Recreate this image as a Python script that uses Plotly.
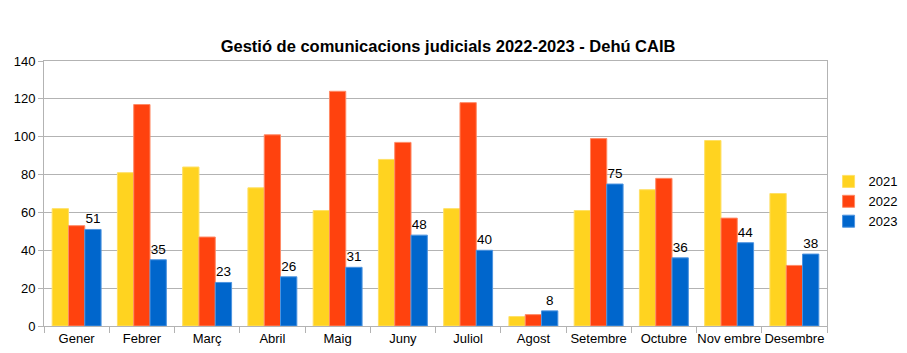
import plotly.graph_objects as go

months = ["Gener", "Febrer", "Març", "Abril", "Maig", "Juny", "Juliol",
          "Agost", "Setembre", "Octubre", "Nov embre", "Desembre"]
v2021 = [62, 81, 84, 73, 61, 88, 62, 5, 61, 72, 98, 70]
v2022 = [53, 117, 47, 101, 124, 97, 118, 6, 99, 78, 57, 32]
v2023 = [51, 35, 23, 26, 31, 48, 40, 8, 75, 36, 44, 38]
y_ticks = [0, 20, 40, 60, 80, 100, 120, 140]

FONT = "Liberation Sans, Arial, sans-serif"

fig = go.Figure()
fig.add_trace(go.Bar(name="2021", x=months, y=v2021,
                     marker=dict(color="#ffd320", line=dict(color="#ffe066", width=1))))
fig.add_trace(go.Bar(name="2022", x=months, y=v2022,
                     marker=dict(color="#ff420e", line=dict(color="#ff8a66", width=1))))
fig.add_trace(go.Bar(name="2023", x=months, y=v2023,
                     marker=dict(color="#0066cc", line=dict(color="#4d94e0", width=1)),
                     texttemplate="%{y}", textposition="outside",
                     textfont=dict(family=FONT, size=13.5, color="#000000"),
                     cliponaxis=False))

fig.update_layout(
    width=907, height=353,
    margin=dict(l=44, r=80, t=61, b=27, autoexpand=False),
    paper_bgcolor="white", plot_bgcolor="white",
    font=dict(family=FONT, size=13, color="#000000"),
    title=dict(text="<b>Gestió de comunicacions judicials 2022-2023 - Dehú CAIB</b>",
               x=0.494, xanchor="center", y=0.868, yanchor="middle",
               font=dict(family=FONT, size=16.5, color="#000000")),
    barmode="group", bargap=0.25, bargroupgap=0,
    showlegend=True,
    legend=dict(x=1.002, xanchor="left", y=0.47, yanchor="middle",
                font=dict(family=FONT, size=13), itemwidth=30,
                tracegroupgap=0, bgcolor="rgba(0,0,0,0)"),
    uniformtext=dict(minsize=13.5, mode="show"),
)
fig.update_xaxes(showline=True, linecolor="#b3b3b3", linewidth=1,
                 ticks="outside", tickson="boundaries", ticklen=6, tickcolor="#b3b3b3",
                 showgrid=False, tickfont=dict(family=FONT, size=13),
                 tickangle=0, automargin=False, mirror=True)
fig.update_yaxes(range=[0, 140], tickvals=y_ticks, showgrid=True, gridcolor="#b3b3b3",
                 showline=True, linecolor="#b3b3b3", linewidth=1, mirror=True,
                 ticks="outside", ticklen=5, tickcolor="#b3b3b3", automargin=False,
                 tickfont=dict(family=FONT, size=13), zeroline=False)

fig.write_html("out.html")
